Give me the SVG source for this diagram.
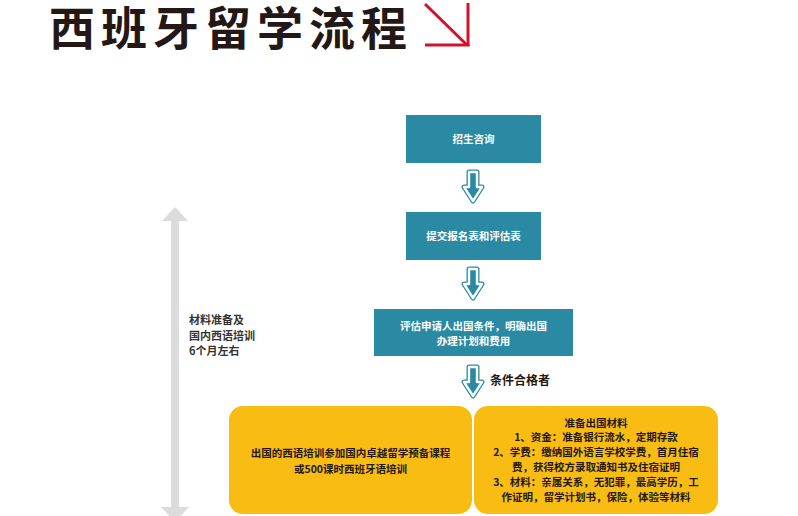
<svg xmlns="http://www.w3.org/2000/svg" width="798" height="516" viewBox="0 0 798 516">
<style>
.t{font-family:"Noto Sans CJK SC","Noto Sans",sans-serif;font-weight:bold}
.title{font-size:46px;fill:#231815;letter-spacing:6px}
.box{fill:#2a89a3}
.wt{font-size:10.5px;fill:#ffffff;text-anchor:middle}
.yb{fill:#f9bc12}
.dk{font-size:10.5px;fill:#231815;text-anchor:middle}
.side{font-size:11px;fill:#333333}
</style>
<defs>
<path id="dl" d="M-4,0 H4 V15 H9 L0,29 L-9,15 H-4 Z" stroke-linejoin="round"/>
<g id="dlarrow">
<use href="#dl" fill="#2a89a3" stroke="#2a89a3" stroke-width="5"/>
<use href="#dl" fill="#2a89a3" stroke="#ffffff" stroke-width="2.4"/>
</g>
</defs>
<text class="t title" x="49" y="45">西班牙留学流程</text>
<g id="title-arrow" stroke="#d0132b" stroke-width="3" fill="none">
<line x1="425" y1="4" x2="467" y2="45"/>
<line x1="468" y1="3" x2="468" y2="46"/>
<line x1="425" y1="45" x2="469.5" y2="45"/>
</g>
<g id="timeline">
<path d="M175,207 L188,221 H179 V507 H189 L175,522 L161,507 H171 V221 H162 Z" fill="#dcdcdc"/>
<text class="t side" x="189" y="324">材料准备及</text>
<text class="t side" x="189" y="340">国内西语培训</text>
<text class="t side" x="189" y="355">6个月左右</text>
</g>
<g id="connectors">
<use href="#dlarrow" x="473" y="172"/>
<use href="#dlarrow" x="473" y="269"/>
<use href="#dlarrow" x="473" y="367"/>
<text class="t" x="490" y="385" font-size="12" fill="#231815">条件合格者</text>
</g>
<g id="n1">
<rect class="box" x="406" y="115" width="135" height="48"/>
<text class="t wt" x="473.5" y="143">招生咨询</text>
</g>
<g id="n2">
<rect class="box" x="406" y="212" width="135" height="48"/>
<text class="t wt" x="473.5" y="240">提交报名表和评估表</text>
</g>
<g id="n3">
<rect class="box" x="374" y="309" width="199" height="47"/>
<text class="t wt" x="473.5" y="330">评估申请人出国条件，明确出国</text>
<text class="t wt" x="473.5" y="345">办理计划和费用</text>
</g>
<g id="n4">
<rect class="yb" x="229" y="406" width="243" height="108" rx="14"/>
<text class="t dk" x="350.5" y="457">出国的西语培训参加国内卓越留学预备课程</text>
<text class="t dk" x="350.5" y="473">或500课时西班牙语培训</text>
</g>
<g id="n5">
<rect class="yb" x="474" y="406" width="244" height="108" rx="14"/>
<text class="t dk" x="596" y="427">准备出国材料</text>
<text class="t dk" x="596" y="441">1、资金：准备银行流水，定期存款</text>
<text class="t dk" x="596" y="456">2、学费：缴纳国外语言学校学费，首月住宿</text>
<text class="t dk" x="596" y="471">费，获得校方录取通知书及住宿证明</text>
<text class="t dk" x="596" y="486">3、材料：亲属关系，无犯罪，最高学历，工</text>
<text class="t dk" x="596" y="501">作证明，留学计划书，保险，体验等材料</text>
</g>
</svg>
